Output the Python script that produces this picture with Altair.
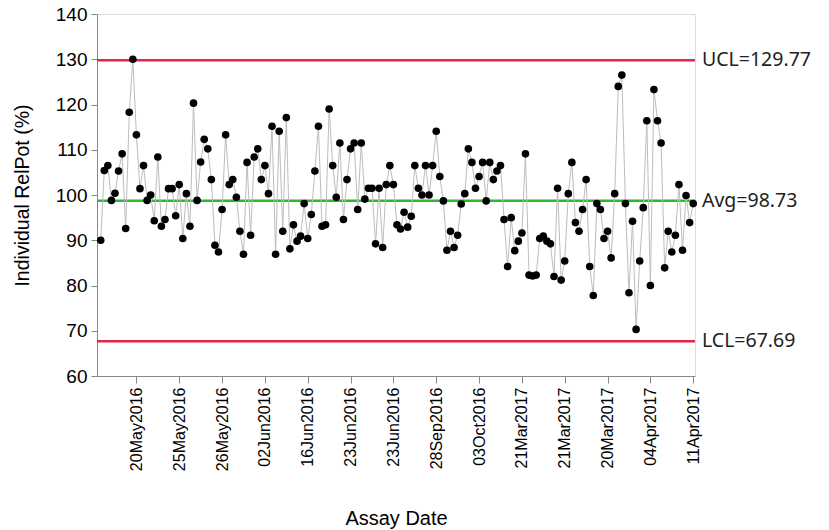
import altair as alt
import pandas as pd

# Individual RelPot results in run order
relpot = [
    90.0, 105.4, 106.5, 98.8, 100.4, 105.3, 109.1, 92.6, 118.3, 130.0,
    113.3, 101.4, 106.5, 98.8, 100.0, 94.3, 108.4, 93.1, 94.6, 101.4,
    101.4, 95.4, 102.3, 90.4, 100.3, 93.1, 120.3, 98.8, 107.3, 112.3,
    110.2, 103.4, 88.9, 87.4, 96.8, 113.3, 102.3, 103.4, 99.5, 92.0,
    86.9, 107.2, 91.1, 108.4, 110.2, 103.4, 106.5, 100.3, 115.2, 86.9,
    114.1, 92.0, 117.1, 88.1, 93.4, 89.8, 90.9, 98.1, 90.4, 95.7,
    105.3, 115.2, 93.1, 93.4, 119.0, 106.5, 99.5, 111.5, 94.6, 103.4,
    110.2, 111.5, 96.8, 111.5, 99.1, 101.5, 101.5, 89.2, 101.5, 88.4,
    102.3, 106.5, 102.3, 93.4, 92.5, 96.2, 92.9, 95.3, 106.5, 101.5,
    100.0, 106.5, 100.0, 106.5, 114.1, 104.1, 98.7, 87.8, 92.0, 88.4,
    91.1, 98.0, 100.3, 110.2, 107.2, 101.5, 104.1, 107.2, 98.7, 107.2,
    103.4, 105.3, 106.5, 94.6, 84.2, 95.0, 87.7, 89.8, 91.6, 109.1,
    82.3, 82.1, 82.3, 90.4, 90.9, 89.8, 89.2, 82.0, 101.5, 81.2,
    85.4, 100.3, 107.2, 93.9, 92.0, 96.8, 103.4, 84.2, 77.8, 98.1,
    96.8, 90.4, 92.0, 86.1, 100.3, 124.0, 126.5, 98.1, 78.4, 94.2,
    70.3, 85.4, 97.2, 116.4, 80.0, 123.3, 116.4, 111.5, 83.9, 92.0,
    87.4, 91.1, 102.3, 87.8, 99.9, 93.9, 98.1,
]

# Assay dates shown on the axis (every 12th row, starting at row 10)
tick_rows = [10, 22, 34, 46, 58, 70, 82, 94, 106, 118, 130, 142, 154, 166]
tick_dates = [
    "20May2016", "25May2016", "26May2016", "02Jun2016", "16Jun2016",
    "23Jun2016", "23Jun2016", "28Sep2016", "03Oct2016", "21Mar2017",
    "21Mar2017", "20Mar2017", "04Apr2017", "11Apr2017",
]

# Control limits
limit_names = ["UCL", "Avg", "LCL"]
limit_values = [129.77, 98.73, 67.69]
limit_colors = ["#E8234B", "#2DB82D", "#E8234B"]

FONT = "Noto Sans"
W, H = 598, 362

pts = pd.DataFrame({"row": list(range(len(relpot))), "relpot": relpot})
lims = pd.DataFrame({
    "name": limit_names,
    "value": limit_values,
    "color": limit_colors,
    "label": [f"{n}={v:.2f}" for n, v in zip(limit_names, limit_values)],
})

label_array = "[" + ",".join(f"'{d}'" for d in tick_dates) + "]"

x_enc = alt.X(
    "row:Q",
    scale=alt.Scale(domain=[-1.04, 166.5], nice=False, zero=False),
    axis=alt.Axis(
        title="Assay Date",
        values=tick_rows,
        labelExpr=f"{label_array}[floor((datum.value - 10) / 12)]",
        labelAngle=-90,
        labelAlign="right",
        labelBaseline="middle",
        labelFontSize=16,
        labelPadding=4,
        tickSize=7,
        grid=False,
        titleFontSize=20,
        titleFontWeight="normal",
        titlePadding=38,
    ),
)
y_enc = alt.Y(
    "relpot:Q",
    scale=alt.Scale(domain=[60, 140], nice=False, zero=False),
    axis=alt.Axis(
        title="Individual RelPot (%)",
        values=[60, 70, 80, 90, 100, 110, 120, 130, 140],
        labelFontSize=19,
        labelPadding=4,
        tickSize=6,
        grid=False,
        titleFontSize=19.5,
        titleFontWeight="normal",
        titlePadding=23,
    ),
)

rules = alt.Chart(lims).mark_rule(strokeWidth=2.5).encode(
    x=alt.value(0),
    x2=alt.value(W),
    y=alt.Y("value:Q"),
    color=alt.Color("color:N", scale=None),
)

labels = alt.Chart(lims).mark_text(
    align="left", baseline="middle", fontSize=19.5, font=FONT, color="#222222"
).encode(
    x=alt.value(W + 7),
    y=alt.Y("value:Q"),
    text="label:N",
)

line = alt.Chart(pts).mark_line(color="#BDBDBD", strokeWidth=1).encode(
    x=x_enc, y=y_enc
)
dots = alt.Chart(pts).mark_point(
    filled=True, color="#000000", size=58, opacity=1, shape="circle"
).encode(x="row:Q", y="relpot:Q")

chart = (
    alt.layer(rules, line, dots, labels)
    .properties(
        width=W,
        height=H,
        autosize=alt.AutoSizeParams(type="none"),
        padding={"left": 97, "top": 14, "right": 134, "bottom": 154},
    )
    .configure_view(stroke="#A8A8A8", strokeWidth=1.5)
    .configure_axis(
        domainColor="#A8A8A8",
        domainWidth=1.5,
        tickColor="#A8A8A8",
        tickWidth=1.5,
        labelColor="#333333",
        titleColor="#333333",
        labelFont=FONT,
        titleFont=FONT,
    )
    .configure(background="white")
)

chart.save("out.html", embed_options={"renderer": "svg", "actions": False})
